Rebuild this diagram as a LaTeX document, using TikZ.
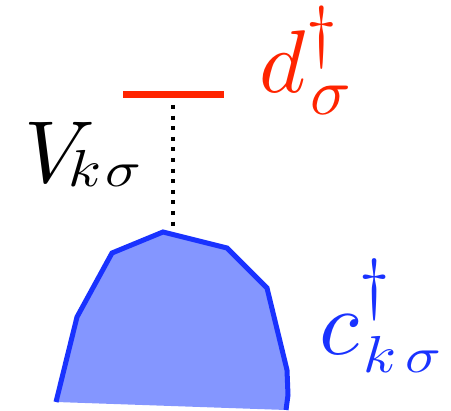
\documentclass[tikz,border=0pt]{standalone}
\usepackage{graphicx}
\definecolor{lvlred}{RGB}{255,36,0}
\definecolor{bandblue}{RGB}{25,50,255}
\definecolor{bandfill}{RGB}{132,150,255}
% \gl{xscale}{yscale}{math}: a glyph of 10pt math, scaled
\newcommand{\gl}[3]{\scalebox{#1}[#2]{$#3$}}
% \pc{kern}{raise}{content}: piece that takes no width
\newcommand{\pc}[3]{\rlap{\kern#1pt\raisebox{#2pt}{#3}}}
\begin{document}
\begin{tikzpicture}[x=1pt,y=-1pt,
  lbl/.style={inner sep=0pt,anchor=base west},
  hop/.style={line width=4pt,dash pattern=on 4pt off 6.6pt},
  bandline/.style={draw=bandblue,line width=5pt,line join=miter}]
\useasboundingbox (0,0) rectangle (451,411);
% band
\fill[bandfill] (56,402) -- (77,317) -- (112,253) -- (163,232) -- (227,248) -- (267,288) -- (287,370) -- (288,395) -- (286,410) -- cycle;
\draw[bandline] (56,402) -- (77,317) -- (112,253) -- (163,232) -- (227,248) -- (267,288) -- (287,370) -- (288,395) -- (286,410);
% level
\node (dlev) [fill=lvlred,inner sep=0pt,minimum width=101pt,minimum height=7pt] at (173.5,94.5) {};
\coordinate (hopstart) at (173,105);
\coordinate (bandtop) at (173,229);
\draw[hop] (hopstart) -- (bandtop);
% labels
\node (dlab) [lbl,text=lvlred] at (259,93)
  {\pc{47.5}{38.4}{\gl{6.9}{6.9}{\dagger}}\pc{51.7}{-22}{\gl{6.7}{6.6}{\sigma}}\gl{8.9}{8.9}{d}};
\node (vlab) [lbl] at (24,183)
  {\pc{44}{-4}{\gl{6.0}{5.2}{k}}\pc{81.5}{-4}{\gl{5.9}{5.0}{\sigma}}\gl{8.8}{8.8}{V}};
\node (clab) [lbl,text=bandblue] at (319,355)
  {\pc{40.6}{48.2}{\gl{6.8}{6.8}{\dagger}}\pc{44}{-18}{\gl{6.0}{5.2}{k}}\pc{86}{-18}{\gl{5.9}{5.0}{\sigma}}\gl{9.2}{9.2}{c}};
\end{tikzpicture}
\end{document}
